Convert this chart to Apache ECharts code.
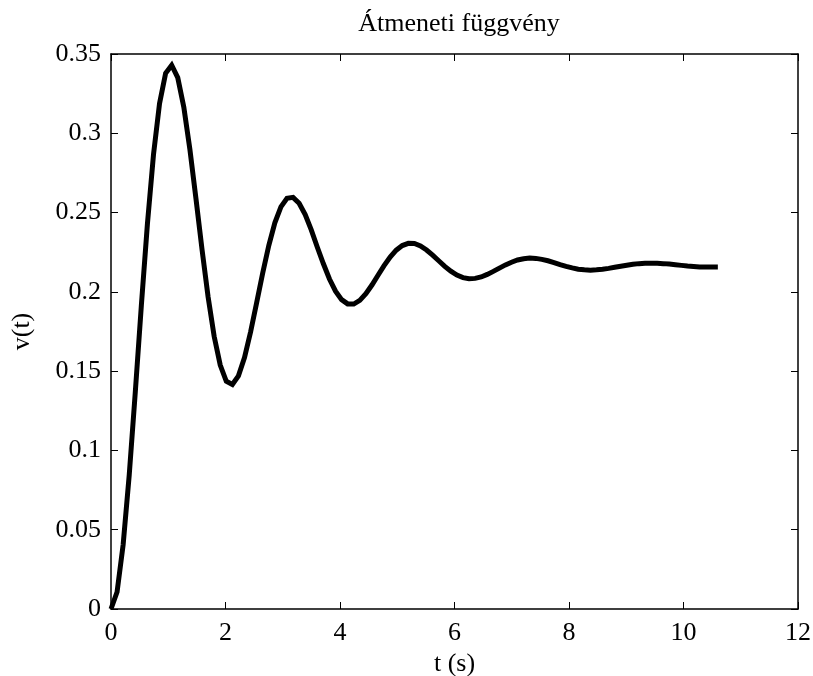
<!DOCTYPE html>
<html>
<head>
<meta charset="utf-8">
<title>Átmeneti függvény</title>
<script src="https://cdn.jsdelivr.net/npm/echarts@6/dist/echarts.min.js"></script>
<style>
  html, body { margin: 0; padding: 0; background: #fff; }
  #chart { width: 813px; height: 676px; }
</style>
</head>
<body>
<div id="chart"></div>
<script>
// step response, t in seconds
const timeValues = [
  0, 0.106, 0.212, 0.318, 0.424, 0.53, 0.636, 0.742, 0.848, 0.954,
  1.06, 1.166, 1.272, 1.378, 1.484, 1.59, 1.696, 1.802, 1.908, 2.014,
  2.12, 2.226, 2.332, 2.438, 2.544, 2.65, 2.756, 2.862, 2.968, 3.074,
  3.18, 3.286, 3.392, 3.498, 3.604, 3.71, 3.816, 3.922, 4.028, 4.134,
  4.24, 4.346, 4.452, 4.558, 4.664, 4.77, 4.876, 4.982, 5.088, 5.194,
  5.3, 5.406, 5.512, 5.618, 5.724, 5.83, 5.936, 6.042, 6.148, 6.254,
  6.36, 6.466, 6.572, 6.678, 6.784, 6.89, 6.996, 7.102, 7.208, 7.314,
  7.42, 7.526, 7.632, 7.738, 7.844, 7.95, 8.056, 8.162, 8.268, 8.374,
  8.48, 8.586, 8.692, 8.798, 8.904, 9.01, 9.116, 9.222, 9.328, 9.434,
  9.54, 9.646, 9.752, 9.858, 9.964, 10.07, 10.176, 10.282, 10.388, 10.494,
  10.6
]
const responseValues = [
  0, 0.0107, 0.0405, 0.0843, 0.1366, 0.1913, 0.2428, 0.2865, 0.3188, 0.3378,
  0.3429, 0.3351, 0.3165, 0.2899, 0.2588, 0.2267, 0.1968, 0.1719, 0.1538, 0.1436,
  0.1416, 0.1470, 0.1586, 0.1747, 0.1931, 0.2119, 0.2292, 0.2435, 0.2536, 0.2590,
  0.2596, 0.2559, 0.2487, 0.2391, 0.2281, 0.2177, 0.2081, 0.2004, 0.1951, 0.1924,
  0.1923, 0.1946, 0.1988, 0.2043, 0.2105, 0.2165, 0.2220, 0.2263, 0.2292, 0.2306,
  0.2305, 0.2290, 0.2264, 0.2231, 0.2196, 0.2161, 0.2130, 0.2106, 0.2090, 0.2083,
  0.2085, 0.2094, 0.2110, 0.2129, 0.2150, 0.2170, 0.2187, 0.2201, 0.2209, 0.2213,
  0.2211, 0.2205, 0.2196, 0.2185, 0.2172, 0.2161, 0.2151, 0.2143, 0.2139, 0.2137,
  0.2139, 0.2142, 0.2148, 0.2155, 0.2162, 0.2168, 0.2174, 0.2178, 0.2180, 0.2181,
  0.2180, 0.2178, 0.2175, 0.2171, 0.2167, 0.2163, 0.2160, 0.2157, 0.2156, 0.2156,
  0.2156
]
const xRange = [0, 12]
const xStep = 2
const yRange = [0, 0.35]
const yStep = 0.05

const font = 'Liberation Serif'
const fontSize = 26
const axisLine = { show: true, onZero: false, lineStyle: { color: '#000', width: 1.5 } }
const axisTick = { show: true, inside: true, length: 7, lineStyle: { color: '#000', width: 1 } }

function xAxis(pos, labels) {
  return {
    type: 'value',
    position: pos,
    min: xRange[0],
    max: xRange[1],
    interval: xStep,
    axisLine: axisLine,
    axisTick: axisTick,
    splitLine: { show: false },
    axisLabel: { show: labels, color: '#000', fontFamily: font, fontSize: fontSize, margin: 11 }
  }
}
function yAxis(pos, labels) {
  return {
    type: 'value',
    position: pos,
    min: yRange[0],
    max: yRange[1],
    interval: yStep,
    axisLine: axisLine,
    axisTick: axisTick,
    splitLine: { show: false },
    axisLabel: { show: labels, color: '#000', fontFamily: font, fontSize: fontSize, margin: 10 }
  }
}

const bottomAxis = xAxis('bottom', true)
bottomAxis.name = 't (s)'
bottomAxis.nameLocation = 'middle'
bottomAxis.nameGap = 37
bottomAxis.nameTextStyle = { color: '#000', fontFamily: font, fontSize: fontSize }

const leftAxis = yAxis('left', true)
leftAxis.name = 'v(t)'
leftAxis.nameLocation = 'middle'
leftAxis.nameGap = 76
leftAxis.nameTextStyle = { color: '#000', fontFamily: font, fontSize: fontSize }

const chart = echarts.init(document.getElementById('chart'))
chart.setOption({
  backgroundColor: '#fff',
  animation: false,
  title: {
    text: 'Átmeneti függvény',
    left: 454,
    top: 6,
    textAlign: 'center',
    textStyle: { color: '#000', fontFamily: font, fontSize: fontSize, fontWeight: 'normal' }
  },
  grid: { left: 111, right: 15, top: 54, bottom: 67, containLabel: false, outerBoundsMode: 'none' },
  xAxis: [bottomAxis, xAxis('top', false)],
  yAxis: [leftAxis, yAxis('right', false)],
  series: [{
    type: 'line',
    xAxisIndex: 0,
    yAxisIndex: 0,
    showSymbol: false,
    smooth: false,
    lineStyle: { color: '#000', width: 5, join: 'miter' },
    data: timeValues.map((t, i) => [t, responseValues[i]])
  }]
})
</script>
</body>
</html>
